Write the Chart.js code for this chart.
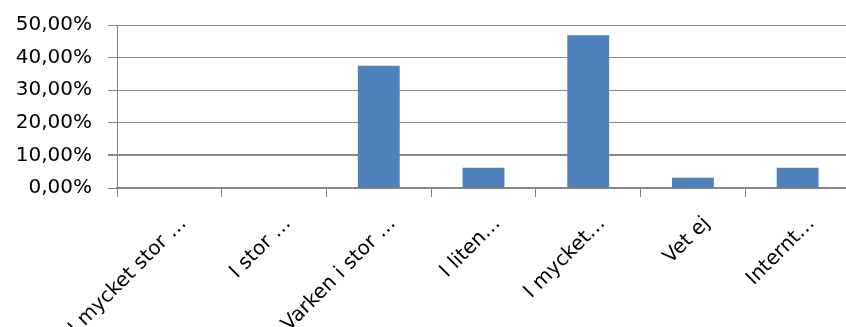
<!DOCTYPE html>
<html>
<head>
<meta charset="utf-8">
<script src="https://cdn.jsdelivr.net/npm/chart.js@4"></script>
<style>
  html, body { margin: 0; padding: 0; background: #fff; overflow: hidden; }
  #wrap { width: 860px; height: 327px; }
</style>
</head>
<body>
<div id="wrap"><canvas id="c" width="860" height="327"></canvas></div>
<script>
// Answer categories (labels shortened as shown on the axis)
const categories = [
  'I mycket stor …',
  'I stor …',
  'Varken i stor …',
  'I liten…',
  'I mycket…',
  'Vet ej',
  'Internt…'
];
// Share of responses, in percent
const shares = [0, 0, 37.5, 6.25, 46.875, 3.125, 6.25];
// Value axis ticks, in percent
const yTicks = [0, 10, 20, 30, 40, 50];

const gridGray = '#878787';
const font = { family: 'DejaVu Sans', size: 20 };

new Chart(document.getElementById('c'), {
  type: 'bar',
  data: {
    labels: categories,
    datasets: [{
      data: shares,
      backgroundColor: '#4F81BD',
      borderWidth: 0,
      barPercentage: 0.4,
      categoryPercentage: 1.0
    }]
  },
  options: {
    responsive: false,
    animation: false,
    devicePixelRatio: 1,
    layout: { padding: { top: 25, right: 10, left: 0, bottom: 0 } },
    plugins: { legend: { display: false }, tooltip: { enabled: false } },
    scales: {
      x: {
        grid: {
          offset: true,
          drawOnChartArea: false,
          drawTicks: true,
          tickLength: 9,
          color: gridGray,
          lineWidth: 1
        },
        border: { display: true, color: gridGray, width: 2 },
        ticks: {
          font: font,
          color: '#000',
          minRotation: 45,
          maxRotation: 45,
          autoSkip: false,
          padding: 15,
          labelOffset: 14
        },
        afterFit: s => { s.height = 139; s.paddingLeft = 0; s.paddingRight = 0; }
      },
      y: {
        min: yTicks[0],
        max: yTicks[yTicks.length - 1],
        afterBuildTicks: s => { s.ticks = yTicks.map(v => ({ value: v })); },
        grid: {
          drawTicks: true,
          tickLength: 9,
          color: gridGray,
          lineWidth: ctx => (ctx.tick && ctx.tick.value === 10 ? 2 : 1)
        },
        border: { display: true, color: gridGray, width: 1 },
        ticks: {
          font: font,
          color: '#000',
          padding: 16,
          callback: v => v.toFixed(2).replace('.', ',') + '%'
        },
        afterFit: s => { s.width = 117; s.paddingTop = 0; s.paddingBottom = 0; }
      }
    }
  }
});
</script>
</body>
</html>
